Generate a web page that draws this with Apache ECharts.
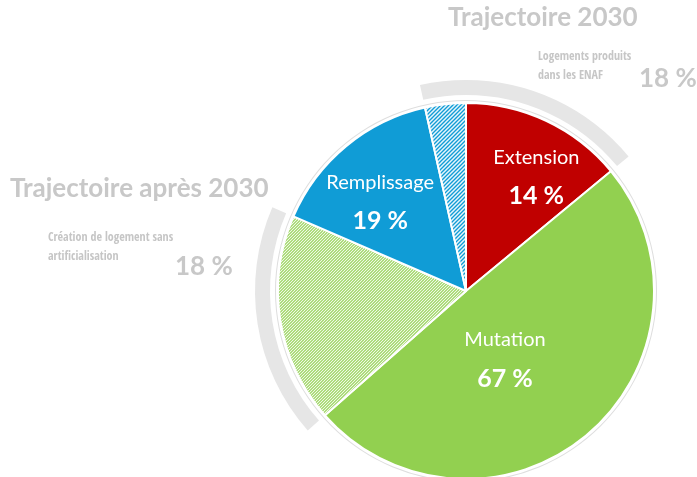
<!DOCTYPE html>
<html>
<head>
<meta charset="utf-8">
<script src="https://cdn.jsdelivr.net/npm/echarts@6/dist/echarts.min.js"></script>
<style>html,body{margin:0;padding:0;background:#fff}#c{width:697px;height:477px}</style>
</head>
<body>
<div id="c"></div>
<script>
// Data
var categories = ['Extension', 'Mutation', 'Création sans artificialisation', 'Remplissage', 'ENAF hors extension'];
var sliceValues = [14, 49.5, 18, 15, 3.5];
var shownPercents = ['14 %', '67 %', '', '19 %', ''];
var groupOfSlice = ['2030', 'none', 'apres2030', 'none', '2030'];
var groupTitles = ['Trajectoire 2030', 'Trajectoire après 2030'];
var groupSubtitles = ['Logements produits\ndans les ENAF', 'Création de logement sans\nartificialisation'];
var groupPercents = ['18 %', '18 %'];

function hatch(base, line, step, width) {
  var c = document.createElement('canvas');
  c.width = step; c.height = step;
  var g = c.getContext('2d');
  g.fillStyle = base; g.fillRect(0, 0, step, step);
  g.strokeStyle = line; g.lineWidth = width;
  g.beginPath();
  g.moveTo(-step, 2 * step); g.lineTo(2 * step, -step);
  g.moveTo(-step, step); g.lineTo(step, -step);
  g.moveTo(0, 2 * step); g.lineTo(2 * step, 0);
  g.stroke();
  return {image: c, repeat: 'repeat'};
}

var colors = ['#c00000', '#92d050', hatch('#92d050', 'rgba(255,255,255,0.9)', 3, 1.1), '#109cd6', hatch('#109cd6', 'rgba(255,255,255,0.9)', 4, 1.5)];
var labelOffsets = [[29, -26], [-24, -5], [0, 0], [-24, -14], [0, 0]];

var pieData = categories.map(function (n, i) {
  return {
    name: n, value: sliceValues[i],
    itemStyle: {color: colors[i]},
    label: {show: shownPercents[i] !== '', offset: labelOffsets[i]}
  };
});
var arcData = categories.map(function (n, i) {
  return {
    name: n, value: sliceValues[i],
    itemStyle: {color: groupOfSlice[i] === 'none' ? 'rgba(0,0,0,0)' : '#e6e6e6'}
  };
});

var chart = echarts.init(document.getElementById('c'));
chart.setOption({
  backgroundColor: '#ffffff',
  animation: false,
  graphic: [
    {type: 'text', left: 448, top: 5, style: {text: groupTitles[0], font: 'bold 26px Lato', fill: '#c8c8c8'}},
    {type: 'text', left: 538, top: 47, style: {text: groupSubtitles[0], font: '12px "Liberation Sans Narrow", "Open Sans Condensed", Lato', fill: '#c6c6c6', lineHeight: 19}},
    {type: 'text', left: 639, top: 66, style: {text: groupPercents[0], font: 'bold 26px Lato', fill: '#c8c8c8'}},
    {type: 'text', left: 10, top: 176, style: {text: groupTitles[1], font: 'bold 26px Lato', fill: '#c8c8c8'}},
    {type: 'text', left: 48, top: 228, style: {text: groupSubtitles[1], font: '12px "Liberation Sans Narrow", "Open Sans Condensed", Lato', fill: '#c6c6c6', lineHeight: 19}},
    {type: 'text', left: 175, top: 254, style: {text: groupPercents[1], font: 'bold 26px Lato', fill: '#c8c8c8'}}
  ],
  series: [
    {
      type: 'pie', silent: true, center: [466, 291], radius: [190, 191],
      startAngle: 90, label: {show: false}, labelLine: {show: false},
      itemStyle: {color: '#dedede'},
      data: [{name: 'outline', value: 1}]
    },
    {
      type: 'pie', silent: true, center: [466, 291], radius: [196, 211],
      startAngle: 90, clockwise: true, label: {show: false}, labelLine: {show: false},
      data: arcData
    },
    {
      type: 'pie', center: [466, 291], radius: [0, 188],
      startAngle: 90, clockwise: true,
      itemStyle: {borderColor: '#ffffff', borderWidth: 2},
      labelLine: {show: false},
      label: {
        position: 'inside',
        formatter: function (p) { return '{n|' + p.name + '}\n{p|' + shownPercents[p.dataIndex] + '}'; },
        rich: {
          n: {fontFamily: 'Lato', fontSize: 20, color: '#ffffff', lineHeight: 38, align: 'center'},
          p: {fontFamily: 'Lato', fontWeight: 'bold', fontSize: 25, color: '#ffffff', lineHeight: 40, align: 'center'}
        }
      },
      data: pieData
    }
  ]
});
</script>
</body>
</html>
